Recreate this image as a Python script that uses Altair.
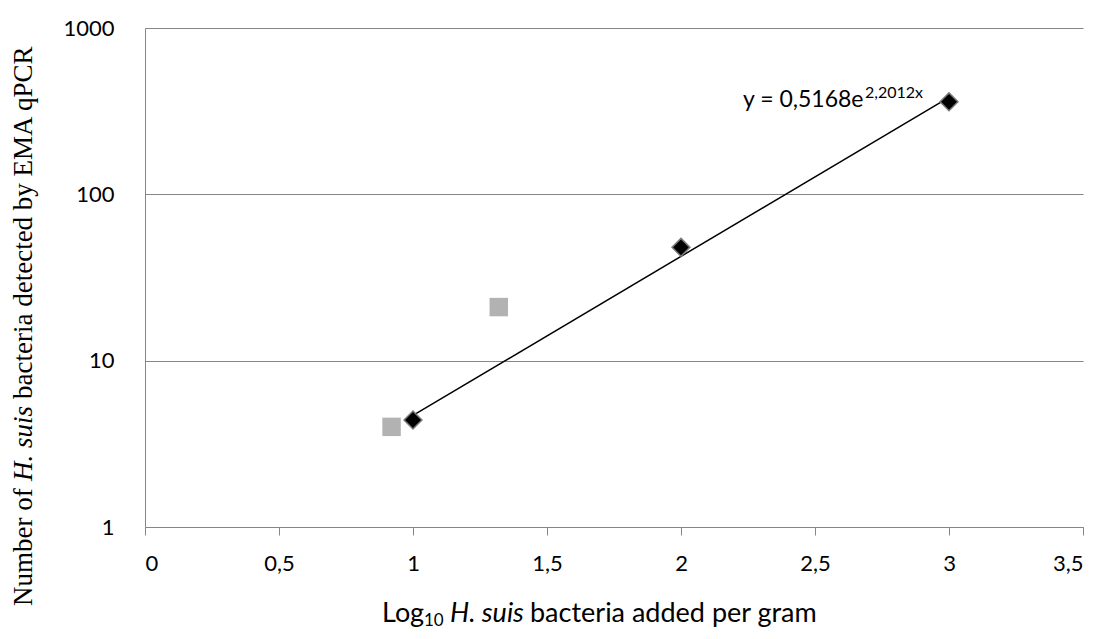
import altair as alt
import pandas as pd

# data
ema_x = [1, 2, 3]
ema_y = [4.4, 48, 360]
grey_x = [0.92, 1.32]
grey_y = [4.0, 21.0]
x_ticks = [0, 0.5, 1, 1.5, 2, 2.5, 3, 3.5]
y_ticks = [1, 10, 100, 1000]

eq_main = "y = 0,5168e"
eq_sup = "2,2012x"

df_ema = pd.DataFrame({"x": ema_x, "y": ema_y})
df_grey = pd.DataFrame({"x": grey_x, "y": grey_y})

W, H = 938, 499
GRAY = "#868686"
SANS = "Lato"
SERIF = "Liberation Serif"

xs = alt.Scale(domain=[0, 3.5], nice=False)
ys = alt.Scale(type="log", domain=[1, 1000], nice=False)

xaxis = alt.Axis(values=x_ticks, title=None, grid=False, domainColor=GRAY,
                 tickColor=GRAY, tickSize=8, labelFont=SANS, labelFontSize=22,
                 labelColor="black", labelPadding=18,
                 labelExpr="replace(toString(datum.value), '.', ',')")
yaxis = alt.Axis(values=y_ticks, title=None, grid=True, gridColor=GRAY,
                 domainColor=GRAY, ticks=False, tickSize=0, labelFont=SANS,
                 labelFontSize=22, labelColor="black", labelPadding=31,
                 format="d")

base_grey = alt.Chart(df_grey).mark_point(shape="square", filled=True, size=340,
                                           color="#b2b2b2", opacity=1).encode(
    x=alt.X("x:Q", scale=xs, axis=xaxis),
    y=alt.Y("y:Q", scale=ys, axis=yaxis),
)

# exponential trend line: least squares on ln(y), as a spreadsheet does
trend = alt.Chart(df_ema).transform_calculate(
    ly="log(datum.y)"
).transform_regression("x", "ly", method="linear").transform_calculate(
    yfit="exp(datum.ly)"
).mark_line(color="black", strokeWidth=1.5).encode(
    x=alt.X("x:Q", scale=xs), y=alt.Y("yfit:Q", scale=ys))

diamonds = alt.Chart(df_ema).mark_point(shape="diamond", filled=True, size=320,
                                         fill="black", stroke="#7a7a7a",
                                         strokeWidth=1.5, opacity=1).encode(
    x=alt.X("x:Q", scale=xs), y=alt.Y("y:Q", scale=ys))


def label(text, px, py, size, font=SANS, style="normal", angle=0):
    kw = dict(text=text, align="left", baseline="alphabetic", font=font,
              fontSize=size, fontStyle=style, color="black")
    if angle:
        kw["angle"] = angle
    return alt.Chart(pd.DataFrame({"t": [text]})).mark_text(**kw).encode(
        x=alt.value(px), y=alt.value(py))


texts = [
    # equation
    label(eq_main, 598, 79, 23),
    label(eq_sup, 720, 70, 16),
    # x title
    label("Log", 237, 594, 27),
    label("10", 279, 598, 17),
    label("H. suis", 305, 594, 27, style="italic"),
    label("bacteria added per gram", 385, 594, 27),
    # y title
    label("Number of", -113, 578, 27, font=SERIF, angle=270),
    label("H. suis", -113, 453, 27, font=SERIF, style="italic", angle=270),
    label("bacteria detected by EMA qPCR", -113, 371, 27, font=SERIF, angle=270),
]

chart = alt.layer(base_grey, trend, diamonds, *texts).properties(
    width=W, height=H,
    autosize=alt.AutoSizeParams(type="none"),
    padding={"left": 137, "top": 20, "right": 3, "bottom": 104},
).configure_view(stroke=None)

chart.save("out.html", embed_options={"renderer": "svg", "actions": False})
